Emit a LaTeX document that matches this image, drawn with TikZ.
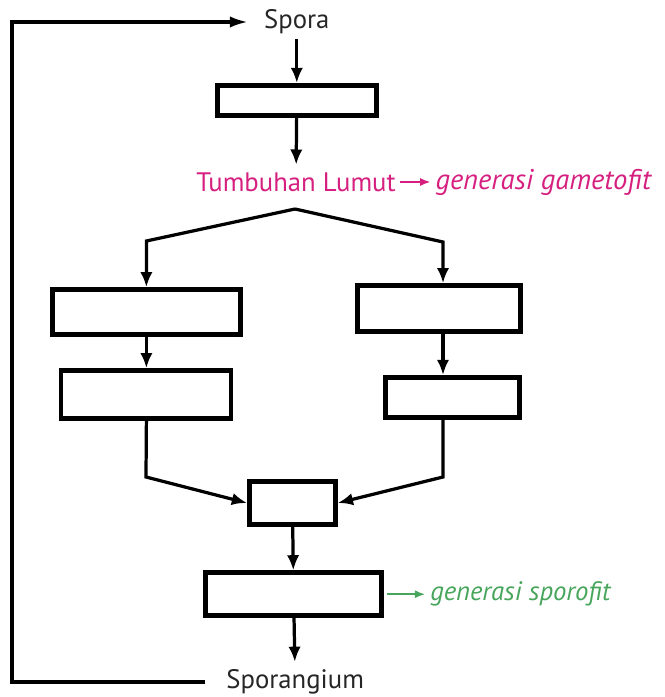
\documentclass[tikz,border=0pt]{standalone}
\usepackage{fontspec}
\setmainfont{PT Sans}
\usepackage{tikz}
\usetikzlibrary{arrows.meta,positioning}
\definecolor{lumutpink}{RGB}{214,32,128}
\definecolor{sporogreen}{RGB}{72,165,92}

\begin{document}
\begin{tikzpicture}[
  box/.style={draw,line width=3.4pt,fill=white,inner sep=0pt},
  arr/.style={-{Latex[length=3.8mm,width=3.1mm]},line width=2.3pt},
  thinarr/.style={-{Latex[length=2.6mm,width=2mm]},line width=1.4pt},
  lbl/.style={font=\fontsize{19}{23}\selectfont}]
  \useasboundingbox (0,0) rectangle (16.625,17.425);
  % Spore at the top and first box
  \node[lbl,text=black!85] (spora) at (7.42,16.875) {Spora};
  \node[box,minimum width=3.98cm,minimum height=0.76cm] (top) at (7.42,14.91) {};
  \draw[arr] (spora) -- (top);
  % Moss plant -> gametophyte generation
  \node[lbl,text=lumutpink] (lumut) at (7.4,12.875) {Tumbuhan Lumut};
  \node[lbl,text=lumutpink,right=0.75cm of lumut,font=\fontsize{20.3}{24}\selectfont] (gameto) {\itshape generasi gametofit};
  \draw[arr,shorten >=2pt] (top) -- (lumut);
  \draw[thinarr,lumutpink,shorten <=-0.5pt] (lumut) -- (gameto);
  % Two branches
  \coordinate (split) at (7.375,12.2);
  \coordinate (colL) at (3.66,11.4);
  \coordinate (colR) at (11.075,11.375);
  \node[box,minimum width=4.7cm,minimum height=1.12cm] (l1) at (3.66,9.625) {};
  \node[box,minimum width=4.25cm,minimum height=1.2cm] (l2) at (3.65,7.56) {};
  \node[box,minimum width=4.07cm,minimum height=1.15cm] (r1) at (10.97,9.71) {};
  \node[box,minimum width=3.35cm,minimum height=1.0cm] (r2) at (11.31,7.49) {};
  \draw[arr] (split) -- (colL) -- (colL |- l1.north);
  \draw[arr] (split) -- (colR) -- (colR |- r1.north);
  \draw[arr] (colL |- l1.south) -- (colL |- l2.north);
  \draw[arr] (colR |- r1.south) -- (colR |- r2.north);
  % Joining into the middle box
  \node[box,minimum width=2.15cm,minimum height=1.07cm] (mid) at (7.31,4.85) {};
  \coordinate (joinL) at (3.65,5.5);
  \coordinate (joinR) at (11.075,5.5);
  \draw[arr] (colL |- l2.south) -- (joinL) -- (mid.west);
  \draw[arr] (colR |- r2.south) -- (joinR) -- (mid.east);
  % Sporophyte generation
  \node[box,minimum width=4.4cm,minimum height=1.07cm] (low) at (7.34,2.57) {};
  \node[lbl,text=sporogreen] (sporo) at (13.01,2.57) {\itshape generasi sporofit};
  \draw[arr] (mid) -- (low);
  \draw[thinarr,sporogreen,shorten <=2pt] (low) -- (sporo);
  % Sporangium and the loop back to the spore
  \node[lbl,text=black!85] (sporangium) at (7.38,0.375) {Sporangium};
  \draw[arr,shorten >=2pt] (low) -- (sporangium);
  \coordinate (loop) at (0.3,16.875);
  \draw[-{Latex[length=4.5mm,width=2.8mm]},line width=2.3pt,shorten <=0.4cm,shorten >=0.28cm]
    (sporangium.west) -| (loop) -- (spora.west);
\end{tikzpicture}
\end{document}
